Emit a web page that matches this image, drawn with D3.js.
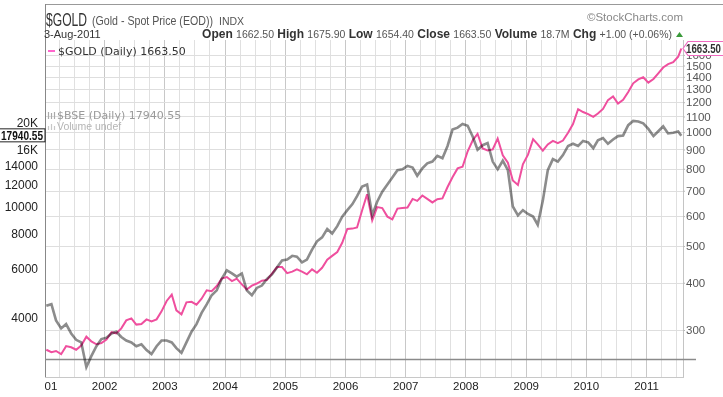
<!DOCTYPE html>
<html>
<head>
<meta charset="utf-8">
<script src="https://cdn.jsdelivr.net/npm/d3@7"></script>
<style>
body { margin: 0; background: #fff; }
svg { display: block; font-family: "Liberation Sans", Arial, sans-serif; }
</style>
</head>
<body>
<svg id="chart" width="723" height="397"></svg>
<script>
// monthly readings, Jan 2001 .. Jul 2011, plus the last close on 3-Aug-2011
const firstMonth = new Date(2001, 0, 1);
const lastDate = new Date(2011, 7, 3);

const goldValues = [
    266, 262, 264, 259, 272, 270, 266, 273, 288, 280, 275, 277,
    283, 296, 294, 303, 318, 322, 310, 311, 320, 316, 320, 336,
    358, 372, 338, 330, 355, 356, 350, 363, 382, 380, 392, 410,
    414, 404, 410, 396, 384, 393, 398, 405, 407, 423, 440, 440,
    424, 428, 434, 428, 421, 434, 425, 438, 460, 471, 482, 510,
    555, 556, 560, 622, 685, 585, 634, 630, 598, 588, 628, 630,
    632, 666, 658, 680, 666, 652, 665, 668, 716, 760, 802, 810,
    890, 952, 990, 905, 895, 900, 962, 868, 830, 745, 725, 822,
    872, 958, 928, 893, 928, 948, 935, 950, 996, 1050, 1150, 1130,
    1116, 1098, 1120, 1152, 1215, 1242, 1190, 1217, 1276, 1346, 1378, 1396,
    1352, 1382, 1428, 1482, 1512, 1530, 1582, 1663.5
];

const bseValues = [
    4400, 4460, 3900, 3650, 3780, 3500, 3320, 3250, 2650, 2900, 3150, 3340,
    3380, 3500, 3550, 3400, 3300, 3250, 3150, 3200, 3050, 2950, 3150, 3300,
    3300, 3250, 3100, 2980, 3250, 3550, 3780, 4150, 4450, 4800, 5000, 5500,
    5900, 5750, 5600, 5750, 5000, 4800, 5100, 5200, 5500, 5700, 6050, 6400,
    6450, 6650, 6600, 6300, 6450, 7000, 7500, 7750, 8300, 8000, 8500, 9200,
    9700, 10200, 10900, 11800, 12000, 9300, 10400, 11300, 12000, 12700, 13500, 13600,
    14000, 13800, 12900, 13700, 14300, 14500, 15200, 14900, 16500, 18900, 19200, 19800,
    19500, 17800, 16000, 16600, 16900, 14500, 13600, 14600, 13500, 10000, 9300, 9700,
    9400, 9200, 8600, 10500, 13500, 14800, 14500, 15300, 16500, 16800, 16500, 17200,
    17000, 16200, 17300, 17600, 16800, 17400, 17900, 18000, 19600, 20300, 20200, 19900,
    19000, 17900, 18600, 19400, 18300, 18400, 18600, 17940.55
];

const goldTicks = [300, 400, 500, 600, 700, 800, 900, 1000, 1100, 1200, 1300, 1400, 1500, 1600];
const bseTicks = [4000, 6000, 8000, 10000, 12000, 14000, 16000, 20000];
const yearTicks = [2001, 2002, 2003, 2004, 2005, 2006, 2007, 2008, 2009, 2010, 2011];

const headerStats = [
    ["Open", "1662.50"], ["High", "1675.90"], ["Low", "1654.40"],
    ["Close", "1663.50"], ["Volume", "18.7M"], ["Chg", "+1.00 (+0.06%)"]
];

const plot = { left: 45, right: 683, top: 40, bottom: 359, strip: 377 };

const dates = d3.timeMonth.range(firstMonth, new Date(2011, 7, 1)).map(d => d3.timeDay.offset(d, 14));
dates.push(lastDate);

const svg = d3.select("#chart");

const x = d3.scaleTime()
    .domain([new Date(2001, 0, 1), new Date(2012, 0, 1)])
    .range([44, 44 + 60.2 * 11]);
const yGold = d3.scaleLog().domain([300, 1500]).range([330, 65.5]);
const yBse = d3.scaleLog().domain([4000, 20000]).range([317.3, 122.7]);

const defs = svg.append("defs");
defs.append("clipPath").attr("id", "plotClip")
    .append("rect").attr("x", plot.left).attr("y", plot.top)
    .attr("width", plot.right - plot.left).attr("height", plot.bottom - plot.top);
defs.append("clipPath").attr("id", "bseClip")
    .append("rect").attr("x", plot.left).attr("y", plot.top)
    .attr("width", plot.right - plot.left).attr("height", 372 - plot.top);
defs.append("clipPath").attr("id", "labelClip")
    .append("rect").attr("x", plot.left).attr("y", 360).attr("width", 700).attr("height", 40);

// grid
const quarters = d3.timeMonth.every(3).range(new Date(2001, 0, 1), new Date(2011, 11, 1))
    .filter(d => x(d) > plot.left && x(d) < plot.right);
svg.append("g").selectAll("line")
    .data(quarters)
    .join("line")
    .attr("x1", d => Math.round(x(d)) + 0.5).attr("x2", d => Math.round(x(d)) + 0.5)
    .attr("y1", plot.top).attr("y2", plot.strip)
    .attr("stroke", d => d.getMonth() === 0 ? "#c8c8c8" : "#e0e0e0");

svg.append("g").selectAll("line")
    .data(goldTicks)
    .join("line")
    .attr("x1", plot.left).attr("x2", plot.right)
    .attr("y1", d => Math.round(yGold(d)) + 0.5).attr("y2", d => Math.round(yGold(d)) + 0.5)
    .attr("stroke", "#dedede");

// frame
const frame = svg.append("g").attr("fill", "none");
frame.append("line").attr("x1", 45).attr("x2", 723).attr("y1", 4.5).attr("y2", 4.5).attr("stroke", "#999");
frame.append("line").attr("x1", 45.5).attr("x2", 45.5).attr("y1", 4).attr("y2", plot.strip).attr("stroke", "#888");
frame.append("line").attr("x1", 683.5).attr("x2", 683.5).attr("y1", plot.top).attr("y2", plot.strip).attr("stroke", "#c4c4c4");
frame.append("line").attr("x1", 45).attr("x2", 696).attr("y1", 359.5).attr("y2", 359.5).attr("stroke", "#8a8a8a").attr("stroke-width", 1.5);
frame.append("line").attr("x1", 45).attr("x2", 684).attr("y1", 377.5).attr("y2", 377.5).attr("stroke", "#c8c8c8");

// series
const goldLine = d3.line().x((d, i) => x(dates[i])).y(d => yGold(d));
const bseLine = d3.line().x((d, i) => x(dates[i])).y(d => yBse(d));

svg.append("path")
    .datum(goldValues)
    .attr("clip-path", "url(#plotClip)")
    .attr("fill", "none")
    .attr("stroke", "#ef4f9e")
    .attr("stroke-width", 2)
    .attr("d", goldLine);

svg.append("path")
    .datum(bseValues)
    .attr("clip-path", "url(#bseClip)")
    .attr("fill", "none")
    .attr("stroke", "#8c8c8c")
    .attr("stroke-width", 2.6)
    .style("mix-blend-mode", "multiply")
    .attr("d", bseLine);

// x axis (the clip sits on an outer group so it uses page coordinates)
const xAxis = svg.append("g")
    .attr("clip-path", "url(#labelClip)")
    .append("g")
    .attr("transform", `translate(0, ${plot.strip})`)
    .call(d3.axisBottom(x)
        .tickValues(yearTicks.map(y => new Date(y, 0, 1)))
        .tickFormat(d3.timeFormat("%Y"))
        .tickSize(0).tickPadding(5));
xAxis.select(".domain").remove();
xAxis.selectAll("text").attr("font-size", 11.5).attr("fill", "#222")
    .attr("font-family", "Liberation Sans, Arial, sans-serif");

// right axis (gold)
const rAxis = svg.append("g")
    .attr("transform", `translate(${plot.right}, 0)`)
    .call(d3.axisRight(yGold).tickValues(goldTicks).tickFormat(d3.format("d")).tickSize(2).tickPadding(1));
rAxis.select(".domain").remove();
rAxis.selectAll("line").attr("stroke", "#bbb");
rAxis.selectAll("text").attr("font-size", 11.5).attr("fill", "#555")
    .attr("font-family", "Liberation Sans, Arial, sans-serif");

// left axis (BSE)
const lAxis = svg.append("g")
    .attr("transform", `translate(${plot.left}, 0)`)
    .call(d3.axisLeft(yBse).tickValues(bseTicks)
        .tickFormat(d => d >= 16000 ? (d / 1000) + "K" : d)
        .tickSize(0).tickPadding(7));
lAxis.select(".domain").remove();
lAxis.selectAll("text").attr("font-size", 12).attr("fill", "#222")
    .attr("font-family", "Liberation Sans, Arial, sans-serif");

// last value tags
const gy = yGold(goldValues[goldValues.length - 1]);
svg.append("path")
    .attr("d", `M683,${gy} L688,${gy - 7} H726 V${gy + 7} H688 Z`)
    .attr("fill", "#fff").attr("stroke", "#f06ac0").attr("stroke-width", 1.2);
svg.append("text").attr("x", 686).attr("y", gy + 4.5)
    .attr("font-size", 12).attr("font-weight", "bold").attr("fill", "#333")
    .attr("textLength", 35).attr("lengthAdjust", "spacingAndGlyphs")
    .text("1663.50");

const by = yBse(bseValues[bseValues.length - 1]);
svg.append("rect").attr("x", -1).attr("y", by - 7).attr("width", 46).attr("height", 13)
    .attr("fill", "#fff").attr("stroke", "#222");
svg.append("text").attr("x", 1).attr("y", by + 4)
    .attr("font-size", 12).attr("font-weight", "bold").attr("fill", "#111")
    .attr("textLength", 42).attr("lengthAdjust", "spacingAndGlyphs")
    .text("17940.55");

// legends inside the plot
svg.append("line").attr("x1", 48).attr("x2", 55).attr("y1", 51).attr("y2", 51)
    .attr("stroke", "#ff66cc").attr("stroke-width", 2);
svg.append("text").attr("x", 58).attr("y", 55)
    .attr("font-family", "DejaVu Sans, Verdana, sans-serif").attr("font-size", 11).attr("fill", "#333")
    .text("$GOLD (Daily) 1663.50");

const icon = svg.append("g").attr("stroke", "#aaa").attr("stroke-width", 1.2);
[48.5, 51.5, 54.5].forEach((ix, i) => {
    icon.append("line").attr("x1", ix).attr("x2", ix).attr("y1", 112 + i % 2).attr("y2", 119);
});
svg.append("text").attr("x", 57).attr("y", 119)
    .attr("font-family", "DejaVu Sans, Verdana, sans-serif").attr("font-size", 11).attr("fill", "#9a9a9a")
    .text("$BSE (Daily) 17940.55");
[48.5, 51.5, 54.5].forEach((ix, i) => {
    icon.append("line").attr("x1", ix).attr("x2", ix).attr("y1", 124 + (i === 1 ? 0 : 2)).attr("y2", 130)
        .attr("stroke", "#c8c8c8");
});
svg.append("text").attr("x", 57).attr("y", 130)
    .attr("font-family", "Liberation Sans, Arial, sans-serif").attr("font-size", 10.5).attr("fill", "#b5b5b5")
    .text("Volume undef");

// header
svg.append("text").attr("x", 46).attr("y", 26)
    .attr("font-size", 19).attr("fill", "#333")
    .attr("textLength", 41).attr("lengthAdjust", "spacingAndGlyphs")
    .text("$GOLD");
svg.append("text").attr("x", 92).attr("y", 25)
    .attr("font-size", 12).attr("fill", "#555")
    .attr("textLength", 121).attr("lengthAdjust", "spacingAndGlyphs")
    .text("(Gold - Spot Price (EOD))");
svg.append("text").attr("x", 219).attr("y", 25)
    .attr("font-size", 10.5).attr("fill", "#555")
    .text("INDX");
svg.append("text").attr("x", 44).attr("y", 38)
    .attr("font-size", 11).attr("fill", "#333")
    .text("3-Aug-2011");

const stats = svg.append("text").attr("x", 672).attr("y", 38).attr("text-anchor", "end");
headerStats.forEach(([k, v], i) => {
    stats.append("tspan").attr("font-size", 12).attr("font-weight", "bold").attr("fill", "#333")
        .text((i ? "  " : "") + k + " ");
    stats.append("tspan").attr("font-size", 10.5).attr("fill", "#555").text(v);
});
svg.append("path").attr("d", "M676,37 L679.5,32 L683,37 Z").attr("fill", "#3a9a3a");

svg.append("text").attr("x", 683).attr("y", 21).attr("text-anchor", "end")
    .attr("font-size", 11.5).attr("fill", "#888")
    .text("\u00A9StockCharts.com");
</script>
</body>
</html>
